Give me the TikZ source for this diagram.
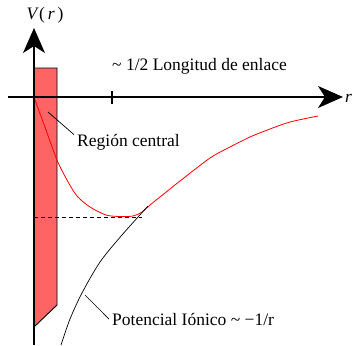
\documentclass[tikz,border=0pt]{standalone}
\usepackage{fontspec}
\setmainfont{Liberation Serif}
\usetikzlibrary{positioning,arrows.meta,calc}
\definecolor{regred}{HTML}{FF6464}
\tikzset{
  axl/.style={-{Stealth[length=25pt, width=22pt, inset=7pt]}, line width=1.4pt, draw=black},
  regb/.style={draw=black, fill=regred, line width=0.9pt},
  potr/.style={draw=red, line width=0.8pt},
  poti/.style={draw=black, line width=0.7pt},
  guia/.style={draw=black, line width=0.7pt},
  lab/.style={font=\fontsize{17.5}{20}\selectfont, inner sep=0pt},
}

\begin{document}
\begin{tikzpicture}[x=1pt, y=-1pt]
      \useasboundingbox (0,0) rectangle (355,345);
      \coordinate (o) at (34,97);
      \coordinate (ytop) at (34,28);
      \coordinate (ybot) at (34,345);
      \coordinate (xl) at (8,97);
      \coordinate (xr) at (343,97);
      % central region
      \draw[regb] (34,68) -- (57,68) -- (57,305) -- (34,327) -- cycle;
      % axes
      \draw[axl] (ybot) -- (ytop);
      \draw[axl] (xl) -- (xr);
      \draw[line width=1.2pt] (112,91) -- (112,104);
      \node[lab] (vlab) at (45,15) {\textit{V}(\,\textit{r}\,)};
      \node[lab, anchor=west] (rlab) at (345,98) {\textit{r}};
      \node[lab, anchor=base west] (enlab) at (112,70)
        {\textasciitilde{} 1/2 Longitud de enlace};
      % potentials
      \draw[potr] plot[smooth, tension=0.5] coordinates {(35,100) (46,130) (57,160)
        (67,180) (77,196) (90,207) (106,215) (120,216.5) (133,216) (142,212)
        (150,205) (165,193) (180,181) (210,158) (230,147) (250,137) (270,129)
        (290,122) (318,116)};
      \draw[poti] plot[smooth] coordinates {(61,345) (70,319) (82,293) (100,262)
        (122,235) (148,206)};
      \coordinate (emin) at (142,217);
      \draw[line width=0.8pt, dash pattern=on 4pt off 3pt] (o |- emin) -- (emin);
      % labels
      \coordinate (regpt) at (48,112);
      \coordinate (ionpt) at (85,295);
      \node[lab, anchor=base west] (reglab) at (77,146) {Región central};
      \node[lab, anchor=base west] (ionlab) at (112,325)
        {Potencial Iónico \textasciitilde{} −1/r};
      \draw[guia] (regpt) -- ([xshift=-3pt,yshift=-1pt]reglab.north west);
      \draw[guia] (ionpt) -- ([xshift=-3pt]ionlab.west);
    \end{tikzpicture}
\end{document}
